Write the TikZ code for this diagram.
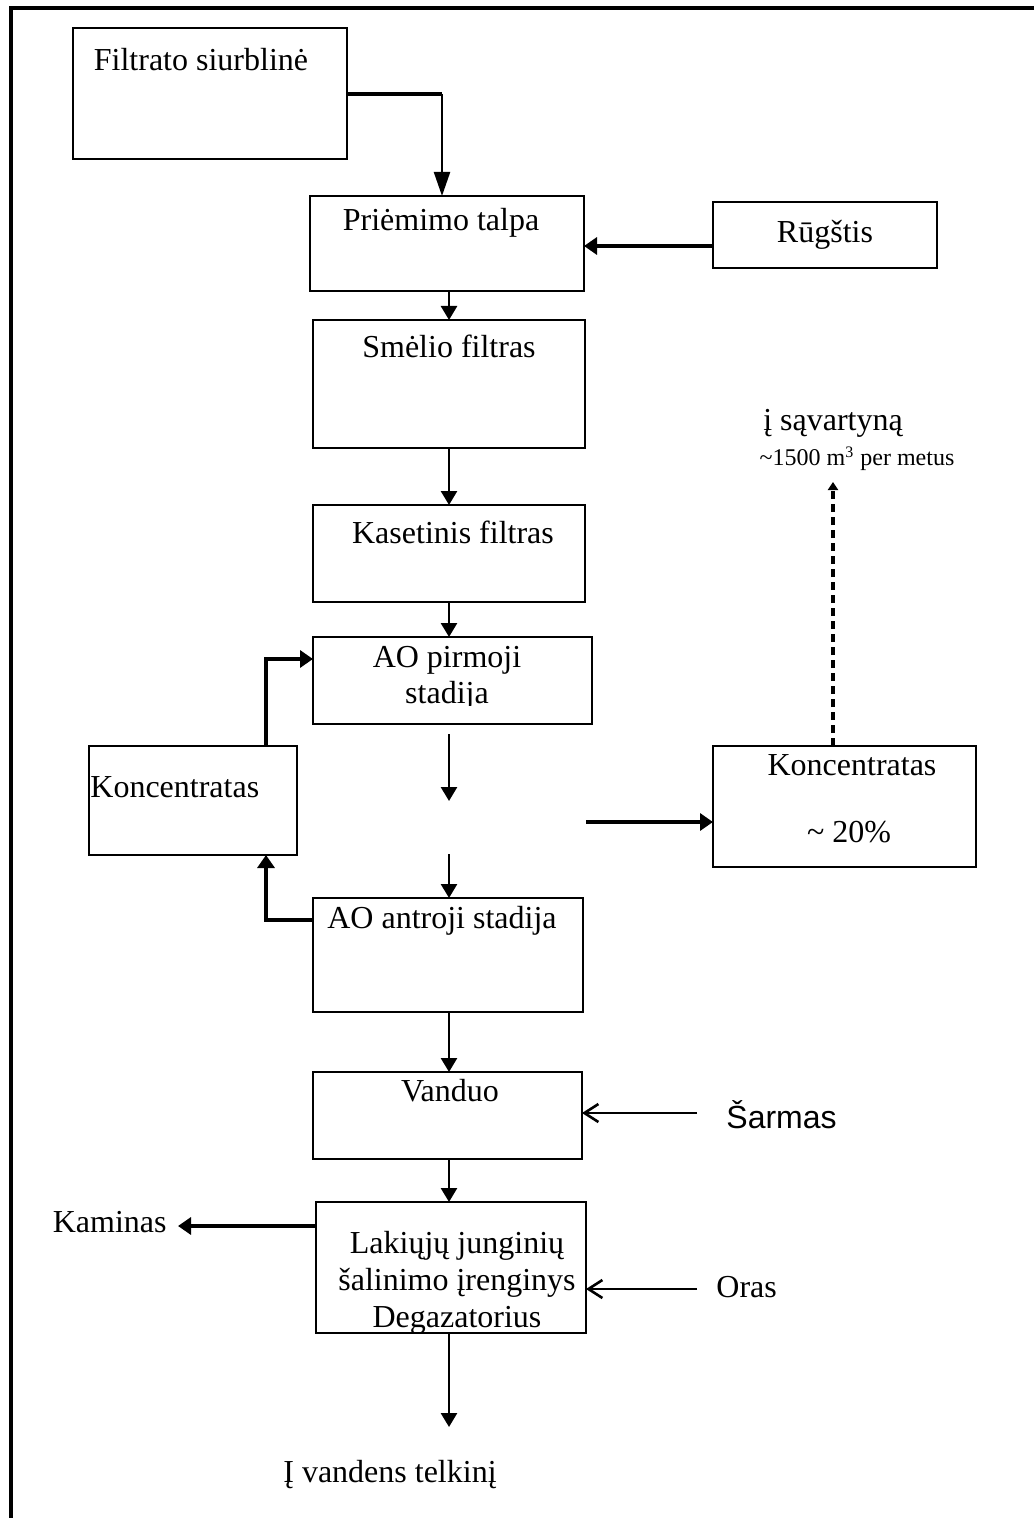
\documentclass[tikz,border=0pt]{standalone}
\usepackage{fontspec}
\setmainfont{Liberation Serif}
\newfontfamily\arialf{Liberation Sans}
\usetikzlibrary{arrows.meta,fit,calc}
\tikzset{
  box/.style={draw, line width=1.2pt, inner sep=0pt, outer sep=0pt},
  txt/.style={inner sep=0pt, font=\fontsize{16pt}{19pt}\selectfont},
  smalltxt/.style={inner sep=0pt, font=\fontsize{12pt}{14pt}\selectfont},
  thinarrow/.style={line width=1.3pt, -{Triangle[length=7pt,width=8pt]}},
  longarrow/.style={line width=1.1pt, -{Triangle[length=12pt,width=8pt]}},
  thickline/.style={line width=2pt},
  thickarrow/.style={line width=2pt, -{Triangle[length=6.5pt,width=8.5pt]}},
  openarrow/.style={line width=1.3pt, -{Straight Barb[length=7pt,width=9pt]}},
  dotarrow/.style={line width=1.6pt, dash pattern=on 4pt off 2.5pt, -{Triangle[length=4pt,width=5pt]}},
}
\begin{document}
\begin{tikzpicture}[x=0.5pt,y=-0.5pt]
\useasboundingbox (0,0) rectangle (1034,1518);
% frame
\draw[line width=2pt] (1034,8.5) -- (11,8.5) -- (11,1518);

% boxes
\node[box, fit={(73,28) (347,159)}] (fs) {};
\node[box, fit={(310,196) (584,291)}] (pt) {};
\node[box, fit={(713,202) (937,268)}] (rg) {};
\node[box, fit={(313,320) (585,448)}] (sm) {};
\node[box, fit={(313,505) (585,602)}] (ks) {};
\node[box, fit={(313,637) (592,724)}] (ao1) {};
\node[box, fit={(89,746) (297,855)}] (kl) {};
\node[box, fit={(713,746) (976,867)}] (kr) {};
\node[box, fit={(313,898) (583,1012)}] (ao2) {};
\node[box, fit={(313,1072) (582,1159)}] (vd) {};
\node[box, fit={(316,1202) (586,1333)}] (lk) {};

% texts
\node[txt, anchor=base] (tfs) at (201,71) {Filtrato siurblinė};
\node[txt, anchor=base] (tpt) at (441,231) {Priėmimo talpa};
\node[txt, anchor=base] (trg) at (825,243) {Rūgštis};
\node[txt, anchor=base] (tsm) at (449,358) {Smėlio filtras};
\node[txt, anchor=base] (tks) at (453,543) {Kasetinis filtras};
\node[txt, anchor=base] (tao1a) at (447,667) {AO pirmoji};
\begin{scope}
\clip (313,637) rectangle (592,705);
\node[txt, anchor=base] (tao1b) at (447,703) {stadija};
\end{scope}
\node[txt, anchor=base west] (tkl) at (90,797) {Koncentratas};
\node[txt, anchor=base] (tkr1) at (852,775) {Koncentratas};
\node[txt, anchor=base] (tkr2) at (849,842) {\char`\~\ 20\%};
\node[txt, anchor=base] (tsav) at (833,430) {į sąvartyną};
\node[smalltxt, anchor=base] (tmet) at (857,466) {\char`\~1500 m\textsuperscript{3} per metus};
\node[txt, anchor=base] (tao2) at (442,928) {AO antroji stadija};
\node[txt, anchor=base] (tvd) at (450,1101) {Vanduo};
\node[txt, anchor=base west, font=\arialf\fontsize{16pt}{19pt}\selectfont] (tsar) at (726,1128) {Šarmas};
\node[txt, anchor=base east] (tkam) at (167,1232) {Kaminas};
\node[txt, anchor=base] (tlk1) at (457,1253) {Lakiųjų junginių};
\node[txt, anchor=base] (tlk2) at (457,1290) {šalinimo įrenginys};
\node[txt, anchor=base] (tlk3) at (457,1327) {Degazatorius};
\node[txt, anchor=base west] (tor) at (716,1297) {Oras};
\node[txt, anchor=base] (tvt) at (390,1482) {Į vandens telkinį};

% connectors
\coordinate (c1) at (442,94);
\draw[thickline] (c1 -| fs.east) -- (c1);
\draw[longarrow] (c1) -- (c1 |- pt.north);

\coordinate (c2) at (700,246);
\draw[thickarrow] (c2 -| rg.west) -- (c2 -| pt.east);

\coordinate (c3) at (449,300);
\draw[thinarrow] (c3 |- pt.south) -- (c3 |- sm.north);
\draw[thinarrow] (c3 |- sm.south) -- (c3 |- ks.north);
\draw[thinarrow] (c3 |- ks.south) -- (c3 |- ao1.north);

\coordinate (fa1) at (449,734);
\coordinate (fa2) at (449,801);
\draw[thinarrow] (fa1) -- (fa2);

\coordinate (fc) at (586,822);
\draw[thickarrow] (fc) -- (fc -| kr.west);

\coordinate (fd) at (449,854);
\draw[thinarrow] (fd) -- (fd |- ao2.north);

\coordinate (e) at (266,920);
\draw[thickarrow] (e -| ao2.west) -- (e) -- (e |- kl.south);

\coordinate (f) at (266,659);
\draw[thickarrow] (f |- kl.north) -- (f) -- (f -| ao1.west);

\coordinate (g) at (833,482);
\draw[dotarrow] (g |- kr.north) -- (g);

\draw[thinarrow] (c3 |- ao2.south) -- (c3 |- vd.north);
\draw[thinarrow] (c3 |- vd.south) -- (c3 |- lk.north);

\coordinate (s) at (697,1113);
\draw[openarrow] (s) -- (s -| vd.east);

\coordinate (k) at (178,1226);
\draw[thickarrow] (k -| lk.west) -- (k);

\coordinate (o) at (697,1289);
\draw[openarrow] (o) -- (o -| lk.east);

\coordinate (i) at (449,1427);
\draw[thinarrow] (i |- lk.south) -- (i);
\end{tikzpicture}
\end{document}
